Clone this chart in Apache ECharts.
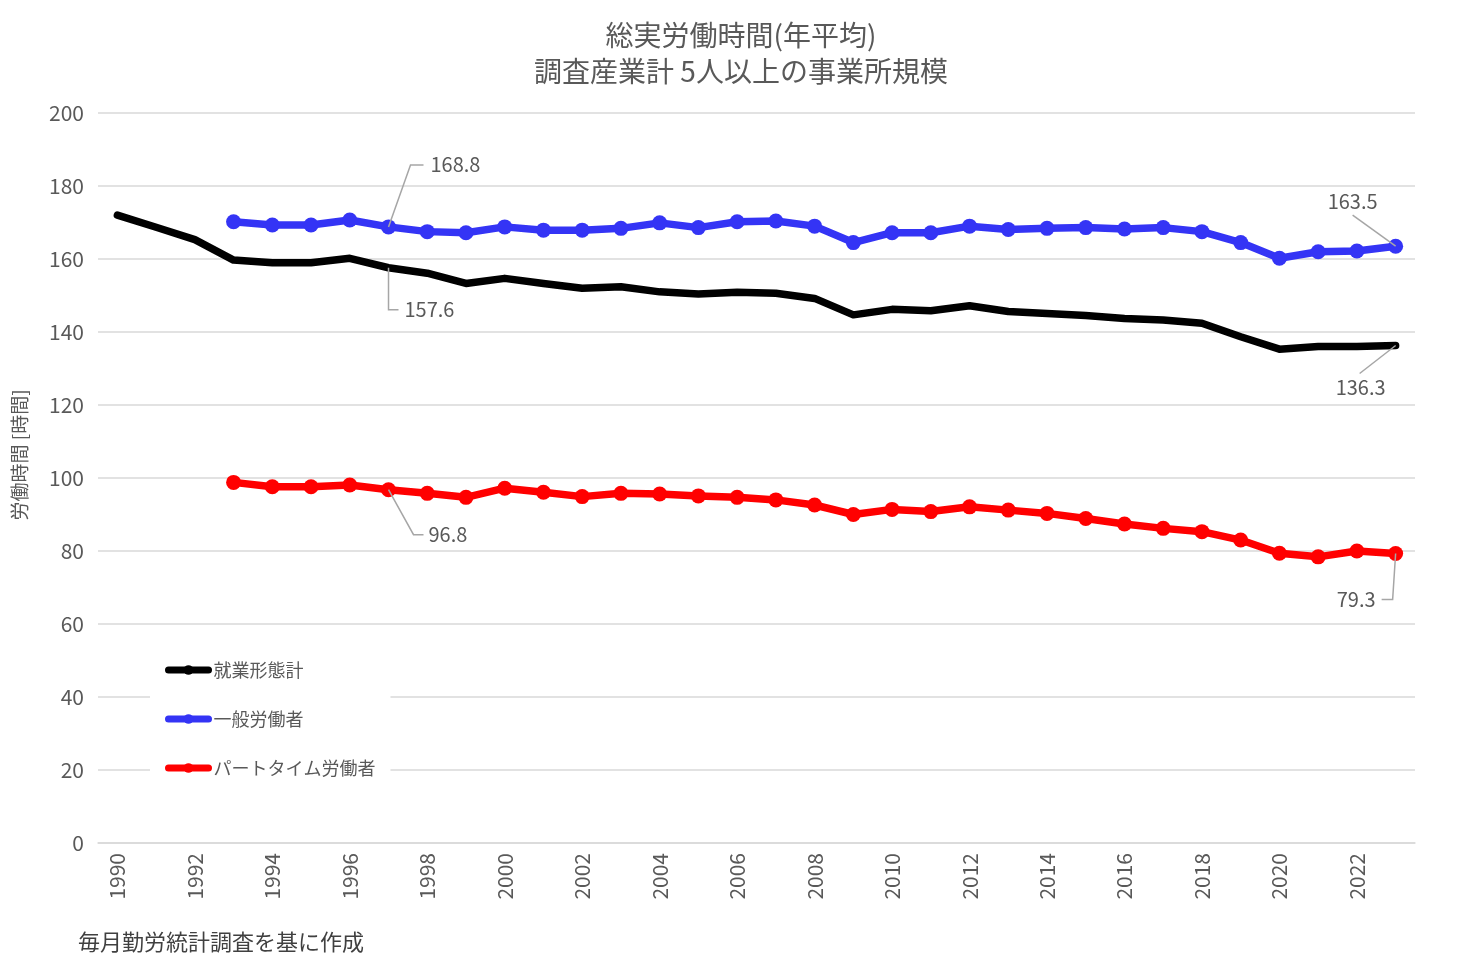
<!DOCTYPE html>
<html>
<head>
<meta charset="utf-8">
<script src="https://cdn.jsdelivr.net/npm/echarts@6/dist/echarts.min.js"></script>
<style>
html,body{margin:0;padding:0;background:#fff;}
#chart{width:1471px;height:960px;}
</style>
</head>
<body>
<div id="chart"></div>
<script>
const years = ['1990','1991','1992','1993','1994','1995','1996','1997','1998','1999','2000','2001','2002','2003','2004','2005','2006','2007','2008','2009','2010','2011','2012','2013','2014','2015','2016','2017','2018','2019','2020','2021','2022','2023'];
const totalHours = [172.0,168.7,165.3,159.7,159.0,159.0,160.2,157.6,156.1,153.3,154.7,153.3,152.0,152.4,151.0,150.4,150.9,150.6,149.2,144.7,146.2,145.8,147.2,145.6,145.1,144.5,143.7,143.3,142.4,138.7,135.3,136.0,136.0,136.3];
const generalHours = [null,null,null,170.2,169.3,169.3,170.7,168.8,167.5,167.2,168.8,167.9,167.9,168.4,169.9,168.6,170.2,170.4,169.0,164.5,167.2,167.2,169.0,168.1,168.4,168.6,168.2,168.6,167.5,164.5,160.2,162.0,162.2,163.5];
const partTimeHours = [null,null,null,98.8,97.6,97.6,98.1,96.8,95.8,94.7,97.2,96.1,94.9,95.8,95.6,95.1,94.7,94.0,92.6,90.0,91.4,90.8,92.1,91.2,90.3,88.9,87.4,86.2,85.3,83.0,79.4,78.4,80.0,79.3];
const seriesNames = ['就業形態計','一般労働者','パートタイム労働者'];
const allSeries = [totalHours, generalHours, partTimeHours];
const labeledIndices = [7, 33];

// Leader-line geometry, as pixel offsets from the labelled point:
// pts = polyline points, t = text anchor, align / valign = text alignment
const labelSpecs = [
  {s: 1, i: 7,  pts: [[0, 0], [22, -62], [35, -62]], t: [42, -62], align: 'left', valign: 'middle'},
  {s: 0, i: 7,  pts: [[0, 0], [0, 42], [10, 42]],    t: [16, 42],  align: 'left', valign: 'middle'},
  {s: 2, i: 7,  pts: [[0, 0], [25, 45], [35, 45]],   t: [40, 45],  align: 'left', valign: 'middle'},
  {s: 1, i: 33, pts: [[0, 0], [-43, -31]],           t: [-43, -35], align: 'center', valign: 'bottom'},
  {s: 0, i: 33, pts: [[0, 0], [-36, 28]],            t: [-35, 32],  align: 'center', valign: 'top'},
  {s: 2, i: 33, pts: [[0, 0], [-3, 46], [-14, 46]],  t: [-20, 46], align: 'right', valign: 'middle'}
];

const FONT = "'Noto Sans CJK JP', 'Noto Sans', sans-serif";
const GRAY = '#595959';

function makeSeries(idx, name, data, color, symbolSize) {
  return {
    name: name,
    type: 'line',
    data: data,
    connectNulls: false,
    smooth: false,
    symbol: 'circle',
    symbolSize: symbolSize,
    showSymbol: true,
    lineStyle: {color: color, width: 7.5, cap: 'round', join: 'round'},
    itemStyle: {color: color},
    label: {show: false},
    emphasis: {disabled: true},
    animation: false,
    z: 3 + idx
  };
}

const yNameGraphic = {
  id: 'yname',
  type: 'text',
  x: 20,
  y: 455,
  rotation: Math.PI / 2,
  style: {
    text: '労働時間 [時間]',
    fill: GRAY,
    font: "19px 'Noto Sans CJK JP', sans-serif",
    textAlign: 'center',
    textVerticalAlign: 'middle'
  }
};

const chart = echarts.init(document.getElementById('chart'), null, {renderer: 'canvas'});
chart.setOption({
  backgroundColor: '#ffffff',
  animation: false,
  title: [
    {
      text: '総実労働時間(年平均)\n調査産業計 5人以上の事業所規模',
      left: 736,
      top: 12,
      textAlign: 'center',
      textStyle: {color: GRAY, fontSize: 28, fontWeight: 'normal', fontFamily: FONT, lineHeight: 36}
    },
    {
      text: '毎月勤労統計調査を基に作成',
      left: 73,
      top: 926,
      textStyle: {color: '#404040', fontSize: 22, fontWeight: 'normal', fontFamily: FONT}
    }
  ],
  grid: {left: 98, right: 56, top: 113, bottom: 117, containLabel: false},
  legend: {
    orient: 'vertical',
    left: 150,
    top: 650,
    padding: [10, 15, 10, 15],
    backgroundColor: '#ffffff',
    itemWidth: 40,
    itemHeight: 12,
    itemGap: 29,
    data: seriesNames,
    lineStyle: {width: 7, cap: 'round'},
    textStyle: {color: GRAY, fontSize: 18, fontFamily: FONT, lineHeight: 20},
    z: 10
  },
  xAxis: {
    type: 'category',
    data: years,
    boundaryGap: true,
    axisLine: {show: true, lineStyle: {color: '#d9d9d9', width: 1.5}},
    axisTick: {show: false},
    axisLabel: {interval: 1, rotate: 90, margin: 10, color: GRAY, fontSize: 21, fontFamily: FONT},
    splitLine: {show: false}
  },
  yAxis: {
    type: 'value',
    min: 0,
    max: 200,
    interval: 20,
    axisLine: {show: false},
    axisTick: {show: false},
    axisLabel: {margin: 14, color: GRAY, fontSize: 21, fontFamily: FONT},
    splitLine: {show: true, lineStyle: {color: '#d9d9d9', width: 1.5}}
  },
  graphic: [yNameGraphic],
  series: [
    makeSeries(0, seriesNames[0], totalHours, '#000000', 2),
    makeSeries(1, seriesNames[1], generalHours, '#3434F5', 15),
    makeSeries(2, seriesNames[2], partTimeHours, '#FF0000', 15)
  ]
});

// data labels with leader lines, positioned from the library's own scales
const extra = [yNameGraphic];
labelSpecs.forEach((sp, k) => {
  const v = allSeries[sp.s][sp.i];
  const p = chart.convertToPixel({gridIndex: 0}, [sp.i, v]);
  extra.push({
    id: 'll' + k,
    type: 'polyline',
    z: 20,
    shape: {points: sp.pts.map(q => [p[0] + q[0], p[1] + q[1]])},
    style: {stroke: '#a6a6a6', lineWidth: 1.5, fill: null}
  });
  extra.push({
    id: 'lt' + k,
    type: 'text',
    z: 20,
    x: p[0] + sp.t[0],
    y: p[1] + sp.t[1],
    style: {
      text: v.toFixed(1),
      fill: GRAY,
      font: "20px 'Noto Sans CJK JP', sans-serif",
      textAlign: sp.align,
      textVerticalAlign: sp.valign
    }
  });
});
chart.setOption({graphic: extra});
</script>
</body>
</html>
